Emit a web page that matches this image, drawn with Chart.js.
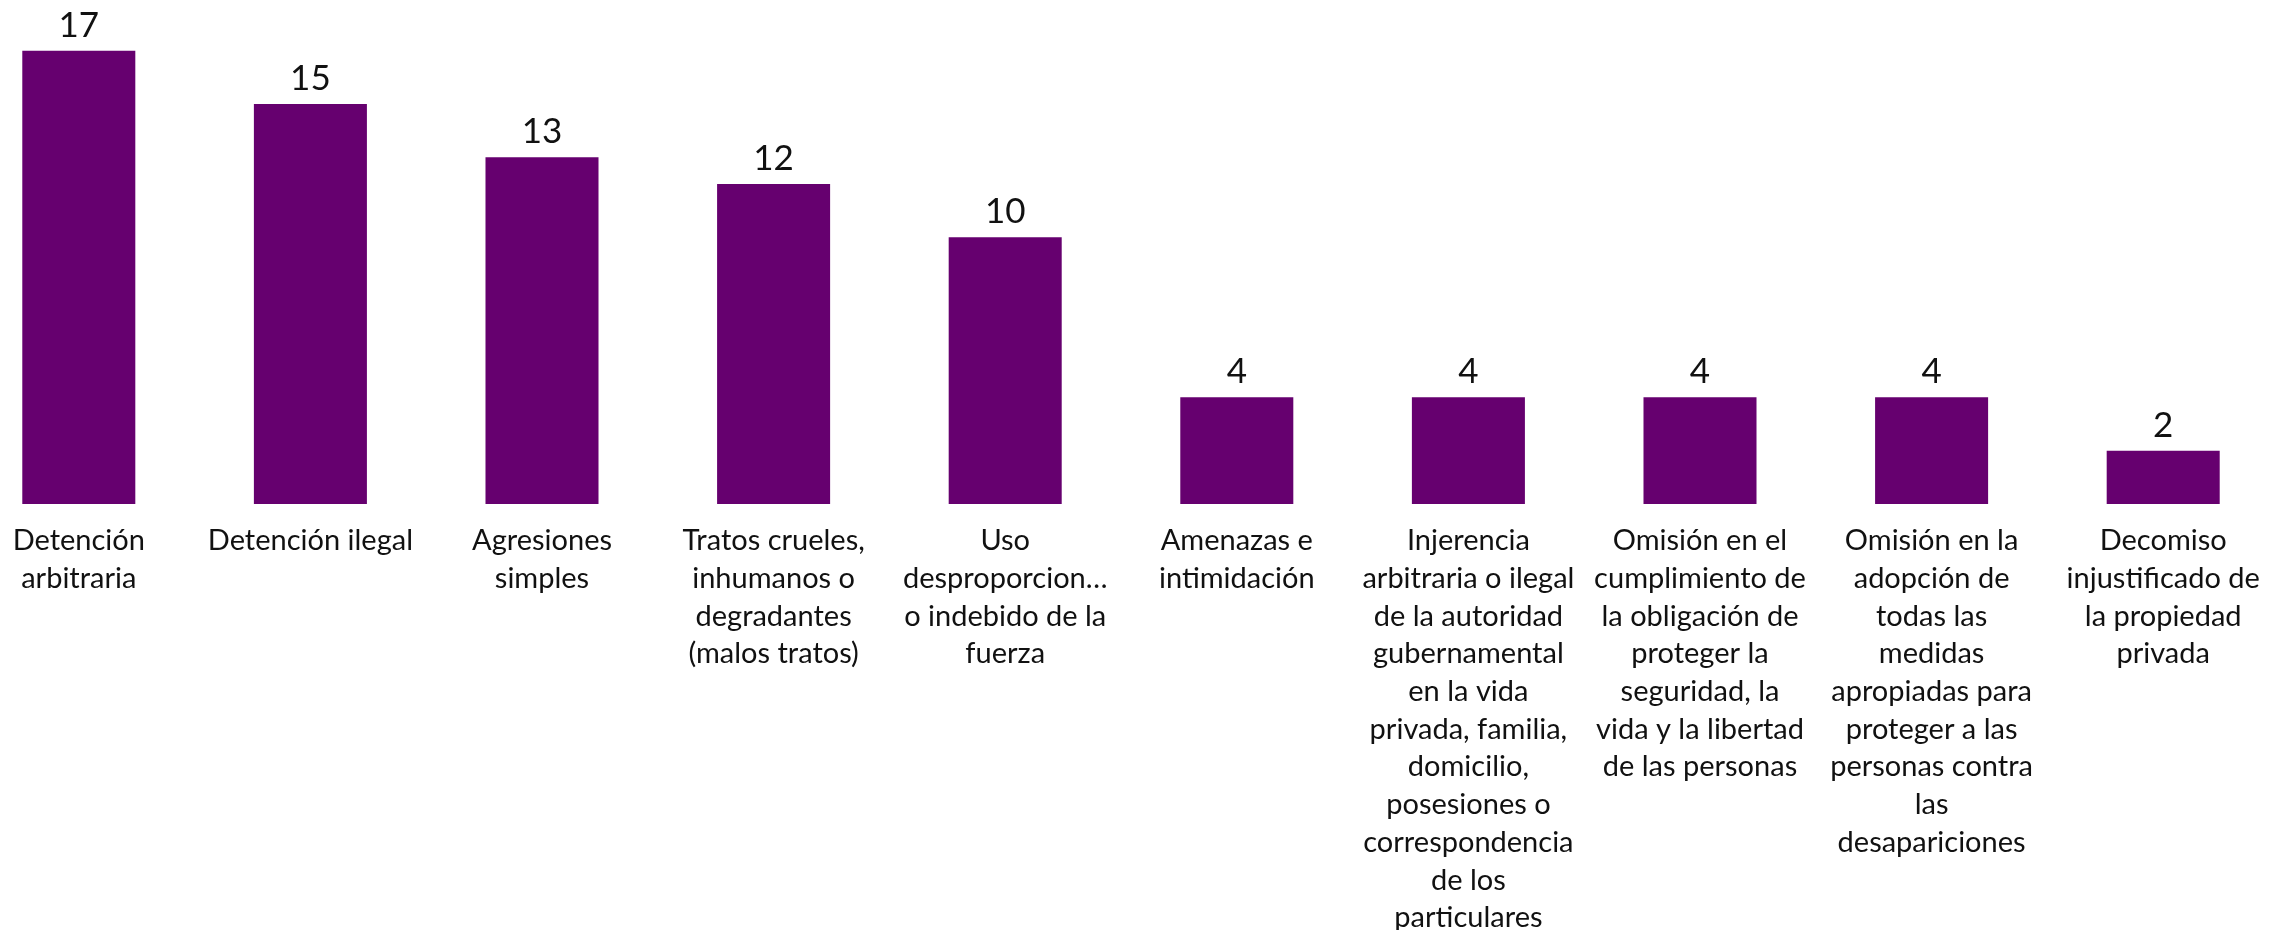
<!DOCTYPE html>
<html lang="es">
<head>
<meta charset="utf-8">
<title>Hechos violatorios</title>
<script src="https://cdn.jsdelivr.net/npm/chart.js@4.4.1/dist/chart.umd.min.js"></script>
<style>
    html, body { margin: 0; padding: 0; background: #fff; overflow: hidden; }
    #wrap { position: absolute; left: -40px; top: 0; width: 2340px; height: 930px; }
</style>
</head>
<body>
<div id="wrap"><canvas id="chart" width="2340" height="930"></canvas></div>
<script>
// Categorías (ya partidas en líneas como en el original)
const categories = [
    ['Detención', 'arbitraria'],
    ['Detención ilegal'],
    ['Agresiones', 'simples'],
    ['Tratos crueles,', 'inhumanos o', 'degradantes', '(malos tratos)'],
    ['Uso', 'desproporcion…', 'o indebido de la', 'fuerza'],
    ['Amenazas e', 'intimidación'],
    ['Injerencia', 'arbitraria o ilegal', 'de la autoridad', 'gubernamental', 'en la vida', 'privada, familia,', 'domicilio,', 'posesiones o', 'correspondencia', 'de los', 'particulares'],
    ['Omisión en el', 'cumplimiento de', 'la obligación de', 'proteger la', 'seguridad, la', 'vida y la libertad', 'de las personas'],
    ['Omisión en la', 'adopción de', 'todas las', 'medidas', 'apropiadas para', 'proteger a las', 'personas contra', 'las', 'desapariciones'],
    ['Decomiso', 'injustificado de', 'la propiedad', 'privada']
];

const values = [17, 15, 13, 12, 10, 4, 4, 4, 4, 2];

const FONT = 'Lato, "Open Sans", sans-serif';
const TEXT_COLOR = '#111111';
const BAR_COLOR = '#66006f';

// números encima de cada barra
const valueLabels = {
    id: 'valueLabels',
    afterDatasetsDraw(chart) {
        const ctx = chart.ctx;
        const meta = chart.getDatasetMeta(0);
        ctx.save();
        ctx.font = '35px ' + FONT;
        ctx.fillStyle = TEXT_COLOR;
        ctx.textAlign = 'center';
        ctx.textBaseline = 'alphabetic';
        meta.data.forEach((bar, i) => {
            ctx.fillText(String(values[i]), bar.x, bar.y - 14);
        });
        ctx.restore();
    }
};

const ctx = document.getElementById('chart').getContext('2d');
new Chart(ctx, {
    type: 'bar',
    data: {
        labels: categories,
        datasets: [{
            data: values,
            backgroundColor: BAR_COLOR,
            categoryPercentage: 1,
            barPercentage: 0.488
        }]
    },
    options: {
        responsive: false,
        animation: false,
        layout: { padding: { left: 3, right: 21, top: 24, bottom: 0 } },
        plugins: {
            legend: { display: false },
            tooltip: { enabled: false }
        },
        scales: {
            x: {
                grid: { display: false, drawTicks: false },
                border: { display: false },
                ticks: {
                    color: TEXT_COLOR,
                    font: { family: FONT, size: 29, lineHeight: 1.3 },
                    padding: 18,
                    maxRotation: 0,
                    autoSkip: false
                },
                afterFit(scale) { scale.height = 426; }
            },
            y: {
                display: false,
                min: 0,
                max: 18
            }
        }
    },
    plugins: [valueLabels]
});
</script>
</body>
</html>
